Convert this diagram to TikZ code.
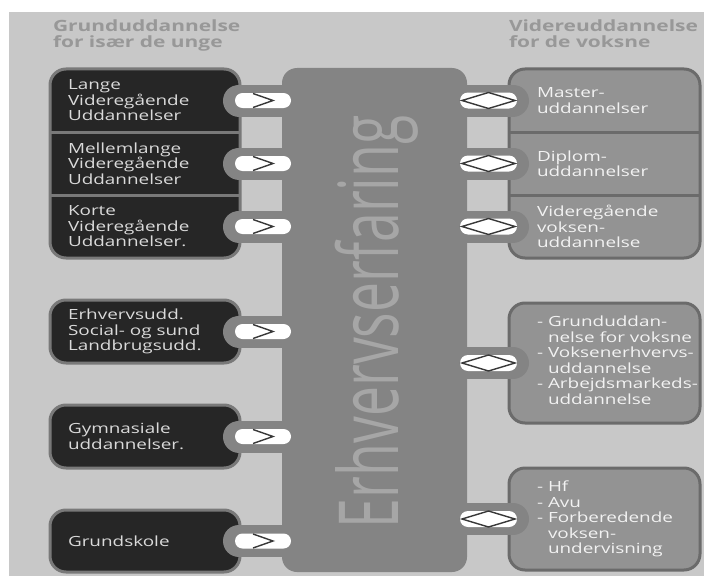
\documentclass[tikz,border=0pt]{standalone}
\usepackage{graphicx}
\usepackage{fontspec}
\setmainfont{Open Sans}[FakeStretch=1.35]
\newfontfamily\colfont{Open Sans}
\usetikzlibrary{shapes.misc}

\definecolor{bggray}{HTML}{C8C8C8}
\definecolor{darkbox}{HTML}{262626}
\definecolor{darkrim}{HTML}{797979}
\definecolor{midgray}{HTML}{848484}
\definecolor{lightbox}{HTML}{939393}
\definecolor{lightrim}{HTML}{6B6B6B}
\definecolor{headgray}{HTML}{989898}
\definecolor{colword}{HTML}{A6A6A6}
\definecolor{chevron}{HTML}{383838}
\definecolor{darktext}{HTML}{DADADA}
\definecolor{lighttext}{HTML}{F2F2F2}

% bullet dash and hanging indent for the list boxes
\newcommand\itm{\makebox[11pt][l]{-}}
\newcommand\cont{\hspace*{11pt}}

\begin{document}
\begin{tikzpicture}[x=1pt, y=-1pt,
  every node/.style={inner sep=0pt, outer sep=0pt},
  darkshape/.style={fill=darkbox, draw=darkrim, line width=3pt, rounded corners=16pt},
  lightshape/.style={fill=lightbox, draw=lightrim, line width=3pt, rounded corners=16pt},
  slot/.style={rectangle, minimum width=190pt, minimum height=63pt},
  rslot/.style={rectangle, minimum width=191pt, minimum height=63pt},
  dbox/.style={slot, darkshape},
  lbox/.style={rslot, lightshape},
  divider/.style={line width=3pt},
  tab/.style={draw=midgray, line width=32pt, line cap=round},
  pill/.style={rounded rectangle, fill=white, minimum width=56pt, minimum height=15pt},
  rpill/.style={pill, minimum width=57pt, minimum height=16pt},
  chev/.style={draw=chevron, line width=1.4pt, line join=miter},
  dtext/.style={anchor=west, align=left, text=darktext, font=\fontsize{14}{15.5}\selectfont},
  ltext/.style={anchor=west, align=left, text=lighttext, font=\fontsize{14}{15.5}\selectfont},
  head/.style={anchor=north west, align=left, text=headgray, font=\bfseries\fontsize{15.5}{15.5}\selectfont}
]
\useasboundingbox (0,0) rectangle (704,578);
\clip (0,0) rectangle (704,578);
\fill[white] (0,0) rectangle (704,578);
\fill[bggray] (9,12) rectangle (704,576);

% central column
\node[fill=midgray, rounded corners=15pt, minimum width=185pt, minimum height=504pt] (C) at (374.5,320) {};

% left column of education boxes
\node[slot] (L1) at (145,100.5) {};
\node[slot] (L2) at (145,163.5) {};
\node[slot] (L3) at (145,226.5) {};
\draw[darkshape] (L1.north west) rectangle (L3.south east);
\draw[divider, darkrim] (L1.south west) -- (L1.south east);
\draw[divider, darkrim] (L2.south west) -- (L2.south east);
\node[dbox] (L4) at (145,331.5) {};
\node[dbox] (L5) at (145,436.5) {};
\node[dbox, minimum height=62pt] (L6) at (145,541) {};

% right column of education boxes
\node[rslot] (R1) at (604.5,100.5) {};
\node[rslot] (R2) at (604.5,163.5) {};
\node[rslot] (R3) at (604.5,226.5) {};
\draw[lightshape] (R1.north west) rectangle (R3.south east);
\draw[divider, lightrim] (R1.south west) -- (R1.south east);
\draw[divider, lightrim] (R2.south west) -- (R2.south east);
\node[lbox, minimum height=120pt] (R4) at (604.5,363) {};
\node[lbox, minimum height=102pt] (R5) at (604.5,519) {};

% tabs joining the boxes to the column
\foreach \bx in {L1,L2,L3,L4,L5,L6}
  \draw[tab] ([xshift=-1pt]\bx.east) -- (\bx.east -| C.west);
\foreach \bx in {R1,R2,R3,R4,R5}
  \draw[tab] ([xshift=4pt]\bx.west) -- (\bx.west -| C.east);

% column label
\node[rotate=90, anchor=base west, text=colword, font=\colfont\fontsize{53.5}{53.5}\selectfont] (CT) at (398,528) {\scalebox{1}[1.55]{Erhvervserfaring}};

% headings
\node[head] (hL) at (53,20) {Grunduddannelse\\for især de unge};
\node[head] (hR) at (509,20) {Videreuddannelse\\for de voksne};

% box texts
\node[dtext] (tL1) at ([xshift=18pt]L1.west) {Lange\\Videregående\\Uddannelser};
\node[dtext] (tL2) at ([xshift=18pt]L2.west) {Mellemlange\\Videregående\\Uddannelser};
\node[dtext] (tL3) at ([xshift=18pt]L3.west) {Korte\\Videregående\\Uddannelser.};
\node[dtext] (tL4) at ([xshift=18pt]L4.west) {Erhvervsudd.\\Social- og sund\\Landbrugsudd.};
\node[dtext] (tL5) at ([xshift=18pt]L5.west) {Gymnasiale\\uddannelser.};
\node[dtext] (tL6) at ([xshift=18pt]L6.west) {Grundskole};

\node[ltext] (tR1) at ([xshift=28pt]R1.west) {Master-\\uddannelser};
\node[ltext] (tR2) at ([xshift=28pt]R2.west) {Diplom-\\uddannelser};
\node[ltext] (tR3) at ([xshift=28pt]R3.west) {Videregående\\voksen-\\uddannelse};
\node[ltext] (tR4) at ([xshift=28pt,yshift=3pt]R4.west) {\itm Grunduddan-\\\cont nelse for voksne\\\itm Voksenerhvervs-\\\cont uddannelse\\\itm Arbejdsmarkeds-\\\cont uddannelse};
\node[ltext] (tR5) at ([xshift=28pt]R5.west) {\itm Hf\\\itm Avu\\\itm Forberedende\\\cont voksen-\\\cont undervisning};

% pills with arrow marks
\foreach \bx in {L1,L2,L3,L4,L5,L6} {
  \node[pill] (p\bx) at ([xshift=23pt]\bx.east) {};
  \draw[chev] ([xshift=-10pt,yshift=7pt]p\bx.center) -- ([xshift=10pt]p\bx.center) -- ([xshift=-10pt,yshift=-7pt]p\bx.center);
}
\foreach \bx in {R1,R2,R3,R4,R5} {
  \node[rpill] (p\bx) at ([xshift=-20.5pt]\bx.west) {};
  \draw[chev] ([xshift=2pt]p\bx.west) -- ([yshift=8pt]p\bx.center) -- ([xshift=-2pt]p\bx.east) -- ([yshift=-8pt]p\bx.center) -- cycle;
}
\end{tikzpicture}
\end{document}
